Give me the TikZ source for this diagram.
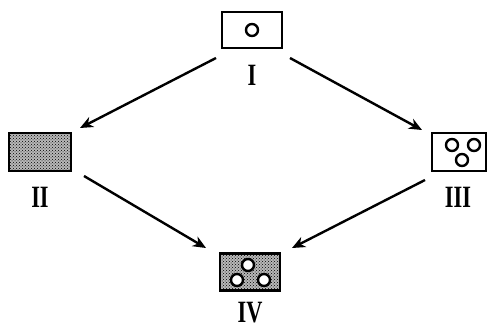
\documentclass[tikz,border=0pt]{standalone}
\usepackage{fontspec}
\setmainfont{Liberation Serif}
\usetikzlibrary{arrows.meta,patterns}
\tikzset{
  cell/.style={draw, line width=2.6pt, minimum width=#1, inner sep=0pt},
  dotted cell/.style={cell=#1, preaction={fill=black!28}, pattern=crosshatch dots},
  hole/.style={draw, line width=2.4pt, fill=white, circle, minimum size=12pt, inner sep=0pt},
  lab/.style={font=\fontsize{31}{31}\selectfont\bfseries, xscale=0.72, inner sep=0pt},
  arr/.style={-{Stealth[length=13pt,width=11pt,inset=4pt]}, line width=2.4pt}
}
\begin{document}
\begin{tikzpicture}[x=1pt,y=-1pt]
\useasboundingbox (0,0) rectangle (487,329);
% boxes
\node[cell=60pt, minimum height=36pt] (b1) at (252,30) {};
\node[hole] (h1) at (252,30) {};
\node[dotted cell=62pt, minimum height=38pt] (b2) at (40,152) {};
\node[cell=54pt, minimum height=38pt] (b3) at (459,152) {};
\node[hole] (h3a) at (452,145) {};
\node[hole] (h3b) at (474,145) {};
\node[hole] (h3c) at (462,160) {};
\node[dotted cell=60pt, minimum height=37pt] (b4) at (250,272) {};
\node[hole] (h4a) at (248,265) {};
\node[hole] (h4b) at (237,280) {};
\node[hole] (h4c) at (264,280) {};
% labels
\node[lab] (l1) at (252,75) {I};
\node[lab] (l2) at (40,197) {II};
\node[lab] (l3) at (458,197) {III};
\node[lab] (l4) at (250,313) {IV};
% arrows
\coordinate (a1s) at (216,58);
\coordinate (a1e) at (80,128);
\coordinate (a2s) at (290,58);
\coordinate (a2e) at (422,130);
\coordinate (a3s) at (84,176);
\coordinate (a3e) at (206,248);
\coordinate (a4s) at (425,180);
\coordinate (a4e) at (292,248);
\draw[arr] (a1s) -- (a1e);
\draw[arr] (a2s) -- (a2e);
\draw[arr] (a3s) -- (a3e);
\draw[arr] (a4s) -- (a4e);
\end{tikzpicture}
\end{document}
